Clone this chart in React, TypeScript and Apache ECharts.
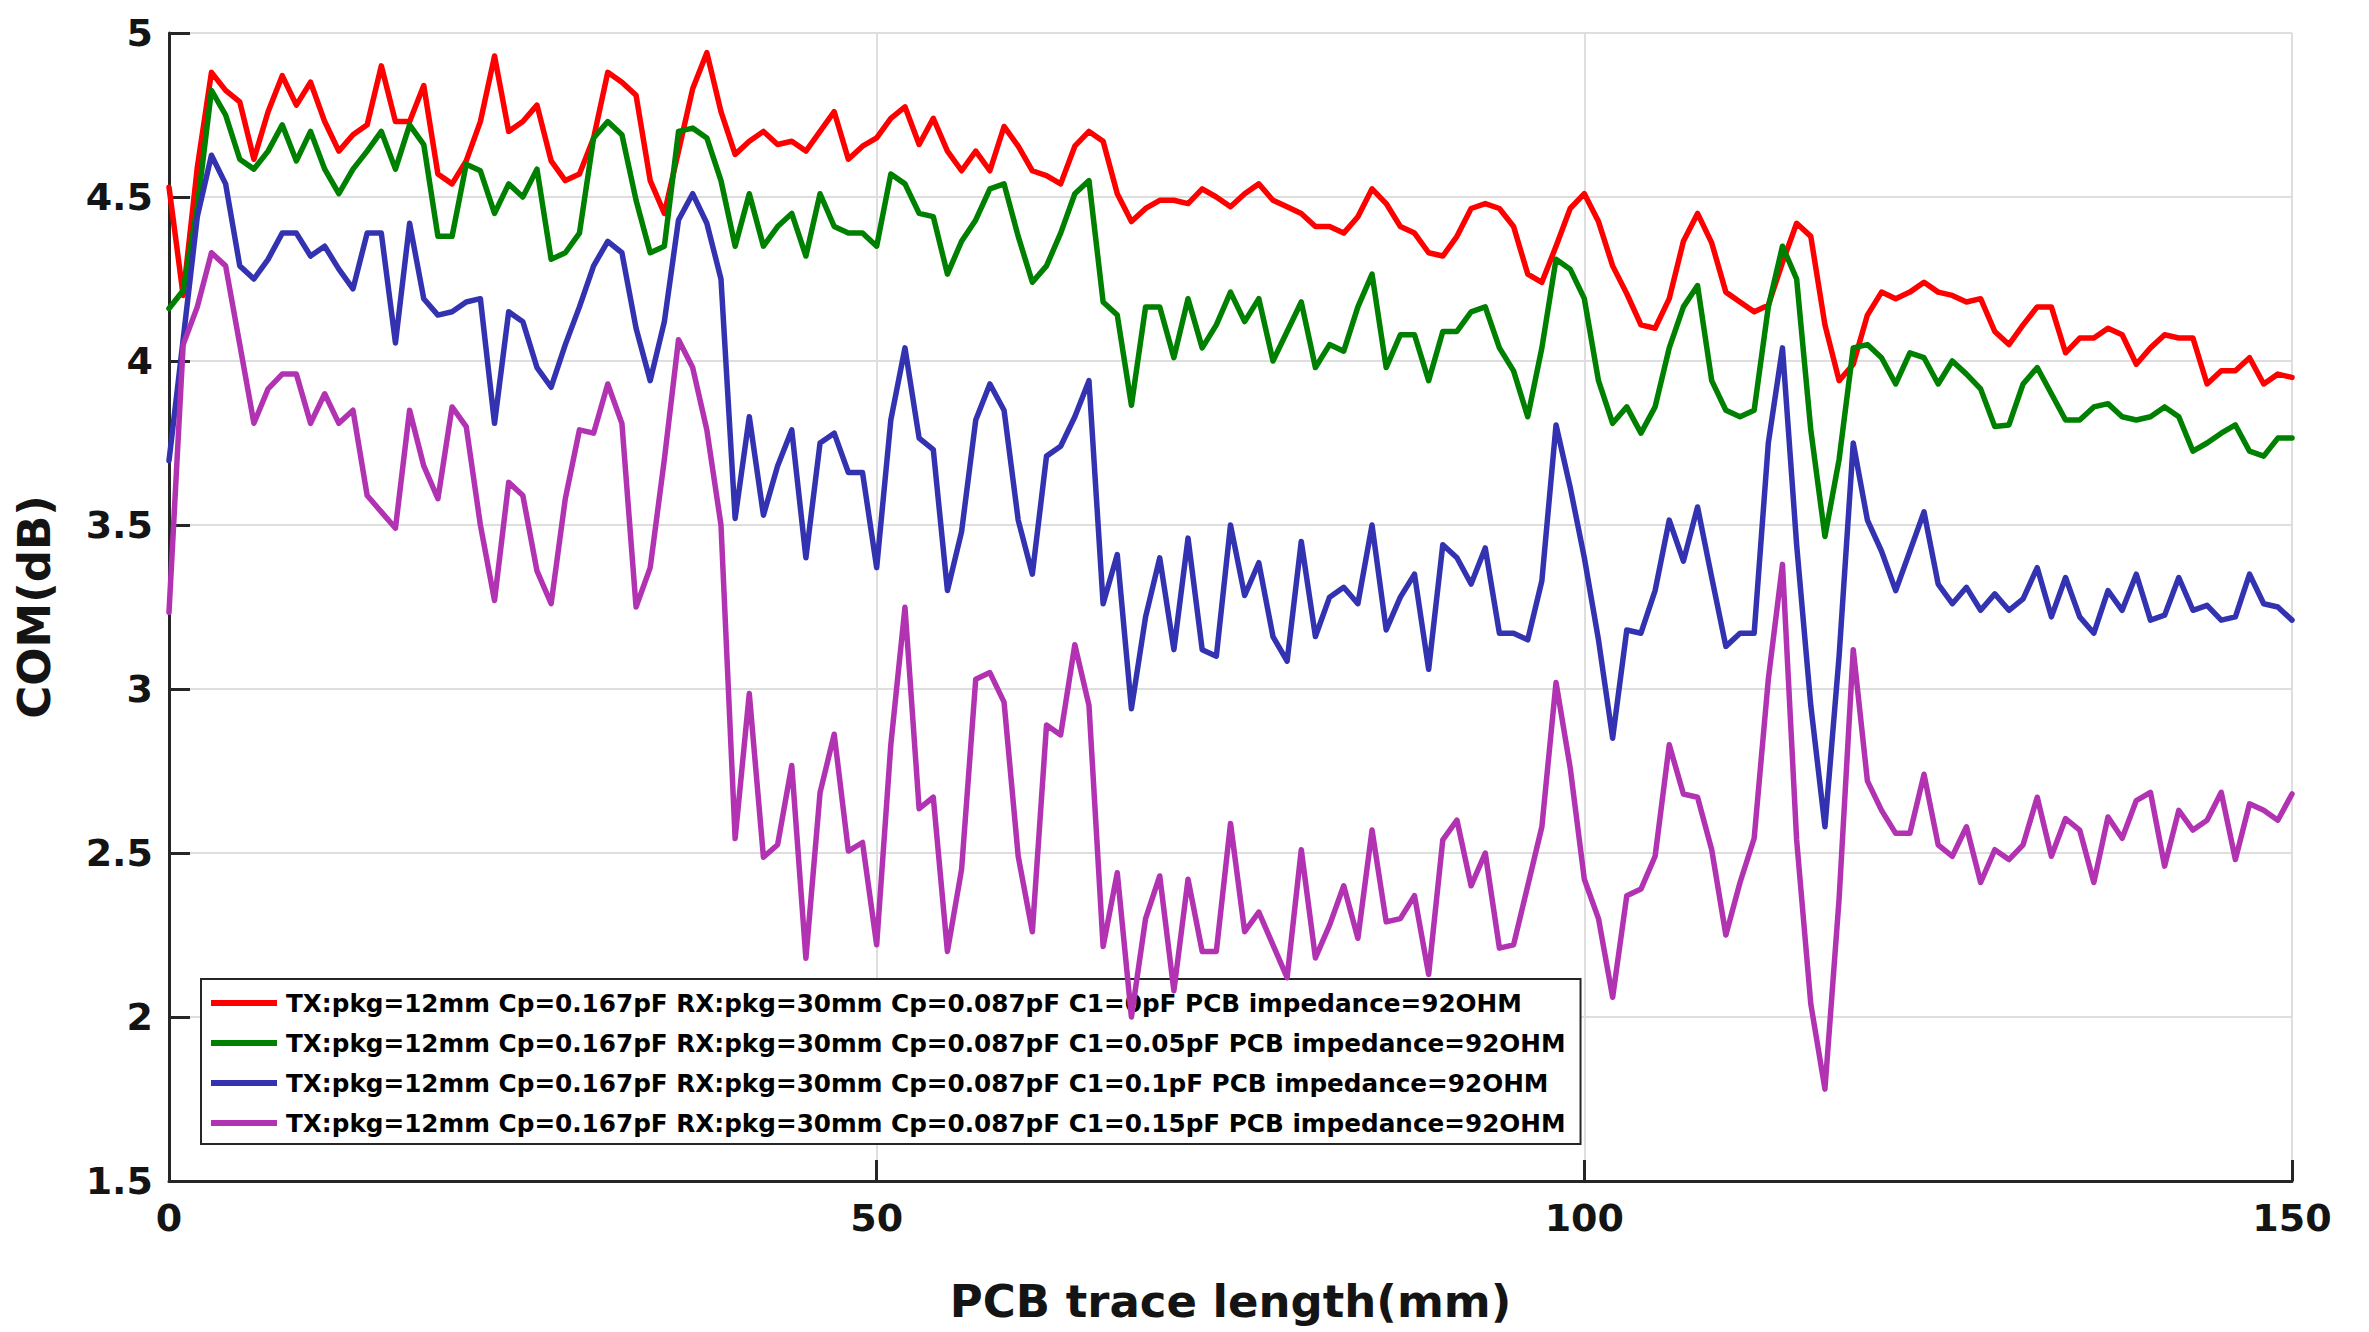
import React, { useEffect, useRef } from "react";
import * as echarts from "echarts";

const legendNames = [
  "TX:pkg=12mm Cp=0.167pF RX:pkg=30mm Cp=0.087pF C1=0pF PCB impedance=92OHM",
  "TX:pkg=12mm Cp=0.167pF RX:pkg=30mm Cp=0.087pF C1=0.05pF PCB impedance=92OHM",
  "TX:pkg=12mm Cp=0.167pF RX:pkg=30mm Cp=0.087pF C1=0.1pF PCB impedance=92OHM",
  "TX:pkg=12mm Cp=0.167pF RX:pkg=30mm Cp=0.087pF C1=0.15pF PCB impedance=92OHM",
];
const seriesColors = ["#ff0000", "#008000", "#3333b2", "#b233b2"];

const lengthStartMm = 0;
const lengthStepMm = 1;

const comC1_0 = [
  4.53, 4.2, 4.59, 4.88, 4.825, 4.79, 4.615, 4.76, 4.87, 4.78,
  4.85, 4.73, 4.64, 4.69, 4.72, 4.9, 4.73, 4.73, 4.84, 4.57,
  4.54, 4.61, 4.73, 4.93, 4.7, 4.73, 4.78, 4.61, 4.55, 4.57,
  4.68, 4.88, 4.85, 4.81, 4.55, 4.45, 4.64, 4.83, 4.94, 4.76,
  4.63, 4.67, 4.7, 4.66, 4.67, 4.64, 4.7, 4.76, 4.615, 4.655,
  4.68, 4.74, 4.775, 4.66, 4.74, 4.64, 4.58, 4.64, 4.58, 4.715,
  4.655, 4.58, 4.565, 4.54, 4.655, 4.7, 4.67, 4.51, 4.425, 4.465,
  4.49, 4.49, 4.48, 4.525, 4.5, 4.47, 4.51, 4.54, 4.49, 4.47,
  4.45, 4.41, 4.41, 4.39, 4.44, 4.525, 4.48, 4.41, 4.39, 4.33,
  4.32, 4.38, 4.465, 4.48, 4.465, 4.41, 4.265, 4.24, 4.35, 4.465,
  4.51, 4.425, 4.29, 4.205, 4.11, 4.1, 4.19, 4.365, 4.45, 4.36,
  4.21, 4.18, 4.15, 4.17, 4.3, 4.42, 4.38, 4.11, 3.94, 3.99,
  4.14, 4.21, 4.19, 4.21, 4.24, 4.21, 4.2, 4.18, 4.19, 4.09,
  4.05, 4.11, 4.165, 4.165, 4.025, 4.07, 4.07, 4.1, 4.08, 3.99,
  4.04, 4.08, 4.07, 4.07, 3.93, 3.97, 3.97, 4.01, 3.93, 3.96,
  3.95,
];

const comC1_005 = [
  4.16, 4.215, 4.47, 4.825, 4.75, 4.615, 4.585, 4.64, 4.72, 4.61,
  4.7, 4.585, 4.51, 4.585, 4.64, 4.7, 4.585, 4.72, 4.66, 4.38,
  4.38, 4.6, 4.58, 4.45, 4.54, 4.5, 4.585, 4.31, 4.33, 4.39,
  4.68, 4.73, 4.69, 4.49, 4.33, 4.35, 4.7, 4.71, 4.68, 4.55,
  4.35, 4.51, 4.35, 4.41, 4.45, 4.32, 4.51, 4.41, 4.39, 4.39,
  4.35, 4.57, 4.54, 4.45, 4.44, 4.265, 4.365, 4.43, 4.525, 4.54,
  4.38, 4.24, 4.29, 4.39, 4.51, 4.55, 4.18, 4.14, 3.865, 4.165,
  4.165, 4.01, 4.19, 4.04, 4.11, 4.21, 4.12, 4.19, 4.0, 4.09,
  4.18, 3.98, 4.05, 4.03, 4.165, 4.265, 3.98, 4.08, 4.08, 3.94,
  4.09, 4.09, 4.15, 4.165, 4.04, 3.97, 3.83, 4.04, 4.31, 4.28,
  4.19, 3.94, 3.81, 3.86, 3.78, 3.86, 4.04, 4.165, 4.23, 3.94,
  3.85, 3.83, 3.85, 4.165, 4.35, 4.25, 3.79, 3.465, 3.7, 4.04,
  4.05, 4.01, 3.93, 4.025, 4.01, 3.93, 4.0, 3.96, 3.915, 3.8,
  3.805, 3.93, 3.98, 3.9, 3.82, 3.82, 3.86, 3.87, 3.83, 3.82,
  3.83, 3.86, 3.83, 3.725, 3.75, 3.78, 3.805, 3.725, 3.71, 3.765,
  3.765,
];

const comC1_01 = [
  3.696, 4.065, 4.44, 4.6275, 4.54, 4.29, 4.25, 4.31, 4.39, 4.39,
  4.32, 4.35, 4.28, 4.22, 4.39, 4.39, 4.055, 4.42, 4.19, 4.14,
  4.15, 4.18, 4.19, 3.81, 4.15, 4.12, 3.98, 3.92, 4.05, 4.165,
  4.29, 4.365, 4.33, 4.1, 3.94, 4.12, 4.43, 4.51, 4.42, 4.25,
  3.52, 3.83, 3.53, 3.68, 3.79, 3.4, 3.75, 3.78, 3.66, 3.66,
  3.37, 3.82, 4.04, 3.765, 3.73, 3.3, 3.48, 3.82, 3.93, 3.85,
  3.515, 3.35, 3.71, 3.74, 3.83, 3.94, 3.26, 3.41, 2.94, 3.22,
  3.4, 3.12, 3.46, 3.12, 3.1, 3.5, 3.285, 3.385, 3.16, 3.085,
  3.45, 3.16, 3.28, 3.31, 3.26, 3.5, 3.18, 3.28, 3.35, 3.06,
  3.44, 3.4, 3.32, 3.43, 3.17, 3.17, 3.15, 3.33, 3.805, 3.615,
  3.4, 3.15, 2.85, 3.18, 3.17, 3.3, 3.515, 3.39, 3.555, 3.34,
  3.13, 3.17, 3.17, 3.75, 4.04, 3.44, 2.95, 2.58, 3.1, 3.75,
  3.515, 3.42, 3.3, 3.42, 3.54, 3.32, 3.26, 3.31, 3.24, 3.29,
  3.24, 3.275, 3.37, 3.22, 3.34, 3.22, 3.17, 3.3, 3.24, 3.35,
  3.21, 3.225, 3.34, 3.24, 3.255, 3.21, 3.22, 3.35, 3.26, 3.25,
  3.21,
];

const comC1_015 = [
  3.234, 4.05, 4.165, 4.33, 4.29, 4.05, 3.81, 3.915, 3.96, 3.96,
  3.81, 3.9, 3.81, 3.85, 3.59, 3.54, 3.49, 3.85, 3.68, 3.58,
  3.86, 3.8, 3.5, 3.27, 3.63, 3.59, 3.36, 3.26, 3.58, 3.79,
  3.78, 3.93, 3.81, 3.25, 3.37, 3.7, 4.065, 3.98, 3.79, 3.5,
  2.544, 2.986, 2.487, 2.525, 2.767, 2.179, 2.684, 2.862, 2.506, 2.532,
  2.22, 2.83, 3.249, 2.635, 2.67, 2.2, 2.45, 3.03, 3.05, 2.96,
  2.49, 2.26, 2.89, 2.86, 3.135, 2.95, 2.215, 2.44, 2.0, 2.3,
  2.43, 2.08, 2.42, 2.2, 2.2, 2.59, 2.26, 2.32, 2.22, 2.12,
  2.51, 2.18, 2.28, 2.4, 2.24, 2.57, 2.29, 2.3, 2.37, 2.13,
  2.54, 2.6, 2.4, 2.5, 2.21, 2.22, 2.4, 2.58, 3.02, 2.76,
  2.42, 2.3, 2.06, 2.37, 2.39, 2.49, 2.83, 2.68, 2.67, 2.51,
  2.25, 2.41, 2.545, 3.03, 3.38, 2.54, 2.04, 1.78, 2.36, 3.12,
  2.72, 2.63, 2.56, 2.56, 2.74, 2.525, 2.49, 2.58, 2.41, 2.51,
  2.48, 2.525, 2.67, 2.49, 2.605, 2.57, 2.41, 2.61, 2.545, 2.66,
  2.685, 2.46, 2.63, 2.57, 2.6, 2.685, 2.48, 2.65, 2.63, 2.6,
  2.68,
];

const xTicks = { min: 0, max: 150, interval: 50 };
const yTicks = { min: 1.5, max: 5, interval: 0.5 };

const allSeries = [comC1_0, comC1_005, comC1_01, comC1_015];

const FONT = "DejaVu Sans";
const TEXT = "#141414";

export default function App() {
  const ref = useRef<HTMLDivElement>(null);
  useEffect(() => {
    const chart = echarts.init(ref.current!, null, { renderer: "svg" });
    chart.setOption({
      animation: false,
      backgroundColor: "#ffffff",
      grid: { left: 169, right: 77, top: 33, bottom: 151, containLabel: false },
      legend: {
        orient: "vertical",
        left: 201,
        top: 979,
        icon: "rect",
        itemWidth: 66,
        itemHeight: 6,
        itemGap: 10,
        padding: [9, 15, 6, 10],
        borderColor: "#262626",
        borderWidth: 2,
        backgroundColor: "#ffffff",
        data: legendNames,
        textStyle: {
          fontFamily: FONT,
          fontWeight: "bold",
          fontSize: 24.7,
          color: "#000",
          lineHeight: 30,
          padding: [0, 0, 0, 4],
        },
      },
      xAxis: {
        type: "value",
        min: xTicks.min,
        max: xTicks.max,
        interval: xTicks.interval,
        name: "PCB trace length(mm)",
        nameLocation: "middle",
        nameGap: 98,
        nameTextStyle: { fontFamily: FONT, fontWeight: "bold", fontSize: 45, color: TEXT },
        axisLine: { show: true, onZero: false, lineStyle: { color: "#262626", width: 3 } },
        axisTick: { show: true, inside: true, length: 21, lineStyle: { color: "#262626", width: 3 } },
        axisLabel: { fontFamily: FONT, fontWeight: "bold", fontSize: 38, color: TEXT, margin: 18 },
        splitLine: { show: true, lineStyle: { color: "#dedede", width: 2 } },
      },
      yAxis: {
        type: "value",
        min: yTicks.min,
        max: yTicks.max,
        interval: yTicks.interval,
        name: "COM(dB)",
        nameLocation: "middle",
        nameGap: 112,
        nameTextStyle: { fontFamily: FONT, fontWeight: "bold", fontSize: 45, color: TEXT },
        axisLine: { show: true, onZero: false, lineStyle: { color: "#262626", width: 3 } },
        axisTick: { show: true, inside: true, length: 21, lineStyle: { color: "#262626", width: 3 } },
        axisLabel: { fontFamily: FONT, fontWeight: "bold", fontSize: 38, color: TEXT, margin: 16 },
        splitLine: { show: true, lineStyle: { color: "#dedede", width: 2 } },
      },
      series: allSeries.map((vals, k) => ({
        name: legendNames[k],
        type: "line",
        showSymbol: false,
        symbol: "none",
        color: seriesColors[k],
        lineStyle: { color: seriesColors[k], width: 5.5, join: "round", cap: "round" },
        data: vals.map((v, i) => [lengthStartMm + i * lengthStepMm, v]),
        z: 2 + k,
      })),
    });
    return () => chart.dispose();
  }, []);
  return (
    <div
      ref={ref}
      style={{ position: "fixed", left: 0, top: 0, width: 2369, height: 1332, background: "#fff" }}
    />
  );
}
